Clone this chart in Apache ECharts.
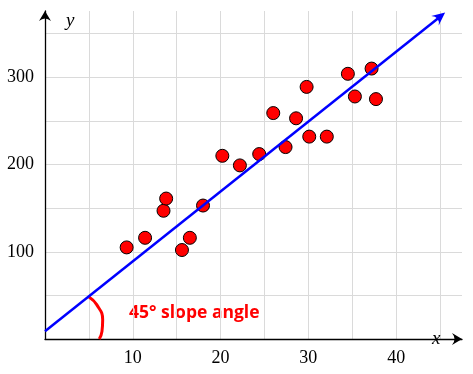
<!DOCTYPE html>
<html>
<head>
<meta charset="utf-8">
<script src="https://cdn.jsdelivr.net/npm/echarts@6/dist/echarts.min.js"></script>
<style>html,body{margin:0;padding:0;background:#fff}#c{width:473px;height:374px}</style>
</head>
<body>
<div id="c"></div>
<script>
// Data
const pointsX = [9.3, 11.4, 13.5, 13.8, 15.6, 16.5, 18.0, 20.2, 22.2, 24.4, 26.0, 27.4, 28.6, 29.8, 30.1, 32.1, 34.5, 35.3, 37.2, 37.7];
const pointsY = [105, 116, 147, 161, 102, 116, 153, 210, 199, 212, 259, 220, 253, 289, 232, 232, 304, 278, 310, 275];
const trendStart = [0, 8.8];
const trendEnd = [45.0, 369.5];
const arcX = [5.01, 5.89, 6.57, 6.49, 6.18];
const arcY = [48.2, 39.4, 22.2, 8.8, 0];
const xTickLabels = [10, 20, 30, 40];
const yTickLabels = [100, 200, 300];
const annotation = '45° slope angle';

const chart = echarts.init(document.getElementById('c'), null, {renderer: 'canvas'});
const axisArrow = 'path://M0,0 L6,10 Q0,5 -6,10 Z';
const serif = 'Liberation Serif';

chart.setOption({
  animation: false,
  grid: {left: 45, right: 11, top: 11, bottom: 35, containLabel: false},
  xAxis: {
    type: 'value', min: 0, max: 47.5, interval: 5,
    name: 'x', nameLocation: 'end', nameGap: -30,
    nameTextStyle: {fontFamily: serif, fontStyle: 'italic', fontSize: 19, color: '#000', align: 'left', verticalAlign: 'middle', padding: [0, 0, 32, 0]},
    axisLine: {show: true, onZero: false, symbol: ['none', axisArrow], symbolSize: [14, 10], symbolOffset: [0, -5], lineStyle: {color: '#000', width: 1.3}},
    axisTick: {show: false},
    axisLabel: {
      margin: 10, fontFamily: serif, fontSize: 18, color: '#000',
      formatter: v => xTickLabels.indexOf(v) >= 0 ? String(v) : ''
    },
    splitLine: {show: true, showMinLine: false, showMaxLine: false, lineStyle: {color: '#dadada', width: 1}}
  },
  yAxis: {
    type: 'value', min: 0, max: 376, interval: 50,
    name: 'y', nameLocation: 'end', nameGap: -10,
    nameTextStyle: {fontFamily: serif, fontStyle: 'italic', fontSize: 19, color: '#000', align: 'left', verticalAlign: 'middle', padding: [0, 0, 0, 21]},
    axisLine: {show: true, onZero: false, symbol: ['none', axisArrow], symbolSize: [14, 10], symbolOffset: [0, -5], lineStyle: {color: '#000', width: 1.3}},
    axisTick: {show: false},
    axisLabel: {
      margin: 11, fontFamily: serif, fontSize: 18, color: '#000',
      formatter: v => yTickLabels.indexOf(v) >= 0 ? String(v) : ''
    },
    splitLine: {show: true, showMinLine: false, showMaxLine: false, lineStyle: {color: '#dadada', width: 1}}
  },
  series: [
    {
      type: 'line', data: [], z: 1, silent: true,
      markLine: {
        silent: true, animation: false,
        symbol: ['none', 'path://M0,0 L6,12 Q0,6 -6,12 Z'], symbolSize: [12, 13],
        label: {show: false},
        lineStyle: {color: '#0000ff', width: 2.5, type: 'solid'},
        data: [[{coord: trendStart}, {coord: trendEnd}]]
      }
    },
    {
      type: 'line', z: 2, smooth: true, showSymbol: false, symbol: 'none', silent: true,
      lineStyle: {color: '#ff0000', width: 3},
      data: arcX.map((x, i) => [x, arcY[i]])
    },
    {
      type: 'scatter', z: 3, symbol: 'circle', symbolSize: 13,
      itemStyle: {color: '#ff0000', borderColor: '#000', borderWidth: 1, opacity: 1},
      data: pointsX.map((x, i) => [x, pointsY[i]])
    }
  ],
  graphic: [{
    type: 'text', left: 129, top: 304, silent: true,
    style: {text: annotation, fill: '#ff0000', font: 'bold 17.5px "Open Sans"'}
  }]
});
</script>
</body>
</html>
